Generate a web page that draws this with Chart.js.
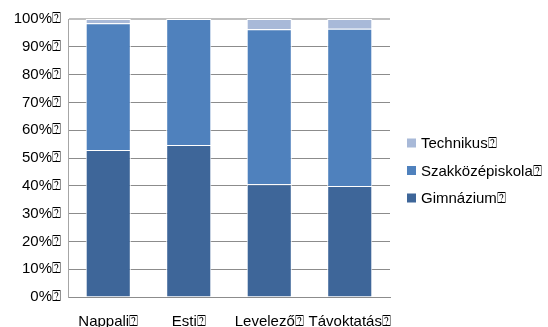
<!DOCTYPE html>
<html lang="hu">
<head>
<meta charset="UTF-8">
<title>Képzési forma</title>
<style>
    html, body {
        margin: 0;
        padding: 0;
        background: #ffffff;
    }
    #wrap {
        width: 548px;
        height: 327px;
    }
</style>
</head>
<body>
<div id="wrap"><canvas id="chart" width="548" height="327"></canvas></div>
<script src="https://cdn.jsdelivr.net/npm/chart.js"></script>
<script>
    // Categories and stacked shares (percent)
    const categories = ['Nappali⍰', 'Esti⍰', 'Levelező⍰', 'Távoktatás⍰'];
    const gimnazium = [52.9, 54.7, 40.6, 39.9];
    const szakkozep = [45.6, 45.3, 55.7, 56.6];
    const technikus = [1.5, 0, 3.7, 3.5];
    const seriesNames = ['Gimnázium⍰', 'Szakközépiskola⍰', 'Technikus⍰'];
    const seriesColors = ['#3E6699', '#4F81BD', '#A8B9D8'];

    const FONT = '"Liberation Sans", Arial, sans-serif';

    // Legend on the right, listed top-down in reverse order of the stack
    const sideLegend = {
        id: 'sideLegend',
        afterDraw(chart) {
            const ctx = chart.ctx;
            const sets = chart.data.datasets;
            ctx.save();
            ctx.font = '15px ' + FONT;
            ctx.textBaseline = 'middle';
            for (let i = sets.length - 1, row = 0; i >= 0; i--, row++) {
                const y = 143 + row * 27.5;
                ctx.fillStyle = sets[i].backgroundColor;
                ctx.fillRect(407, y - 4.5, 9, 9);
                ctx.fillStyle = '#000000';
                ctx.fillText(sets[i].label, 421, y + 1);
            }
            ctx.restore();
        }
    };

    const data = {
        labels: categories,
        datasets: [gimnazium, szakkozep, technikus].map((vals, i) => ({
            label: seriesNames[i],
            data: vals,
            backgroundColor: seriesColors[i],
            borderColor: '#ffffff',
            borderWidth: 1,
            borderSkipped: 'bottom',
            categoryPercentage: 1,
            barPercentage: 0.56
        }))
    };

    new Chart(document.getElementById('chart'), {
        type: 'bar',
        data: data,
        plugins: [sideLegend],
        options: {
            responsive: false,
            animation: false,
            layout: { padding: { top: 19, right: 158, left: 0, bottom: 0 } },
            plugins: {
                legend: { display: false },
                tooltip: { enabled: false }
            },
            scales: {
                x: {
                    stacked: true,
                    grid: { display: false, drawTicks: false },
                    border: { color: '#8C8C8C', width: 1 },
                    ticks: {
                        color: '#000000',
                        font: { family: FONT, size: 15 },
                        padding: 16,
                        maxRotation: 0,
                        autoSkip: false
                    },
                    afterFit(scale) { scale.height = 30; }
                },
                y: {
                    stacked: true,
                    min: 0,
                    max: 100,
                    grid: {
                        color: (c) => c.tick && c.tick.value === 100 ? '#BFBFBF' : '#8C8C8C',
                        lineWidth: (c) => c.tick && c.tick.value === 100 ? 2 : 1,
                        drawTicks: false
                    },
                    border: { color: '#A6A6A6', width: 1 },
                    ticks: {
                        stepSize: 10,
                        color: '#000000',
                        font: { family: FONT, size: 15 },
                        padding: 7,
                        callback: (v) => v + '%⍰'
                    },
                    afterFit(scale) { scale.width = 68; }
                }
            }
        }
    });
</script>
</body>
</html>
